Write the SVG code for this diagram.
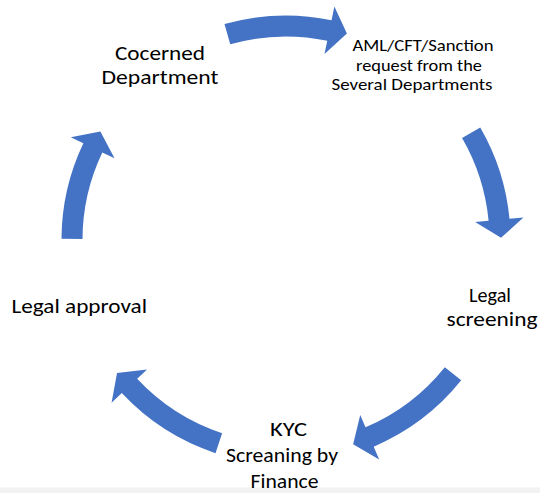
<svg xmlns="http://www.w3.org/2000/svg" width="540" height="493" viewBox="0 0 540 493">
<style>
.arrow{fill:#4472C4;stroke:none}
.big{font-family:Carlito,Lato,"Liberation Sans",sans-serif;font-size:21px;fill:#000}
.small{font-family:Carlito,Lato,"Liberation Sans",sans-serif;font-size:17px;fill:#000}
</style>
<rect x="0" y="0" width="540" height="493" fill="#ffffff"/>
<rect x="0" y="487.5" width="540" height="5.5" fill="#f2f2f2"/>
<g id="connectors">
<path class="arrow" d="M224.49,24.10 A224.5,224.5 0 0 1 331.53,20.17 L334.37,6.46 L346.9,33.5 L324.53,53.95 L327.27,40.73 A203.5,203.5 0 0 0 230.24,44.29 Z"/>
<path class="arrow" d="M480.24,127.41 A224.5,224.5 0 0 1 509.50,218.87 L523.44,217.55 L500.99,237.75 L475.16,222.12 L488.60,220.85 A203.5,203.5 0 0 0 462.07,137.94 Z"/>
<path class="arrow" d="M461.20,380.36 A224.5,224.5 0 0 1 373.71,446.65 L379.18,459.54 L353.14,444.25 L360.23,414.90 L365.51,427.32 A203.5,203.5 0 0 0 444.81,367.23 Z"/>
<path class="arrow" d="M215.51,453.14 A224.5,224.5 0 0 1 121.80,393.11 L111.56,402.66 L117.03,372.96 L147.03,369.58 L137.16,378.79 A203.5,203.5 0 0 0 222.10,433.20 Z"/>
<path class="arrow" d="M61.50,238.82 A224.5,224.5 0 0 1 83.37,143.35 L70.73,137.33 L100.37,131.53 L114.51,158.20 L102.32,152.39 A203.5,203.5 0 0 0 82.50,238.93 Z"/>
</g>
<g id="node-concerned">
<text class="big" x="115" y="59.5" textLength="90" lengthAdjust="spacingAndGlyphs">Cocerned</text>
<text class="big" x="101.5" y="84" textLength="117" lengthAdjust="spacingAndGlyphs">Department</text>
</g>
<g id="node-request">
<text class="small" x="352.5" y="50.5" textLength="141" lengthAdjust="spacingAndGlyphs">AML/CFT/Sanction</text>
<text class="small" x="356" y="70.5" textLength="126" lengthAdjust="spacingAndGlyphs">request from the</text>
<text class="small" x="331.5" y="90" textLength="161" lengthAdjust="spacingAndGlyphs">Several Departments</text>
</g>
<g id="node-legal-screening">
<text class="big" x="469" y="301.5" textLength="42" lengthAdjust="spacingAndGlyphs">Legal</text>
<text class="big" x="446.5" y="326" textLength="91" lengthAdjust="spacingAndGlyphs">screening</text>
</g>
<g id="node-kyc">
<text class="big" x="270" y="436" textLength="37" lengthAdjust="spacingAndGlyphs">KYC</text>
<text class="big" x="226" y="462" textLength="112" lengthAdjust="spacingAndGlyphs">Screaning by</text>
<text class="big" x="250.5" y="488" textLength="68" lengthAdjust="spacingAndGlyphs">Finance</text>
</g>
<g id="node-legal-approval">
<text class="big" x="11.5" y="312.5" textLength="135.5" lengthAdjust="spacingAndGlyphs">Legal approval</text>
</g>
</svg>
